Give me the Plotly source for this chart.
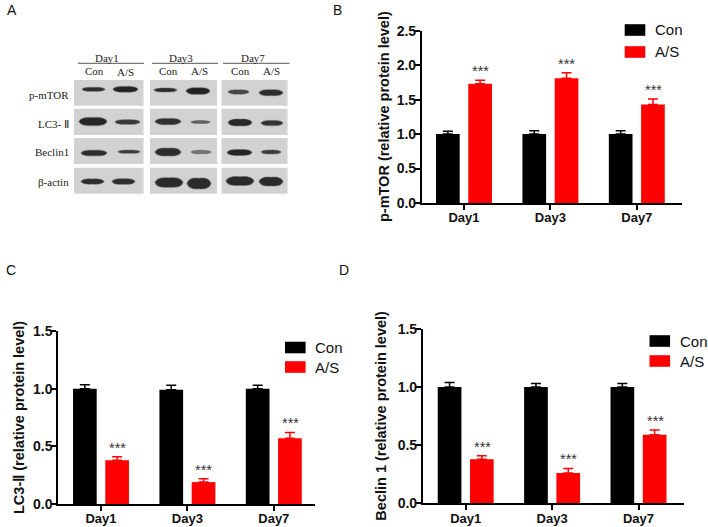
import plotly.graph_objects as go

W, H = 708, 527
SANS = "Liberation Sans, Arial, sans-serif"
SERIF = "Liberation Serif, Times New Roman, serif"

days = ["Day1", "Day3", "Day7"]
series_names = ["Con", "A/S"]
colors = ["#000000", "#ff0000"]

mtor_con = [1.00, 1.00, 1.00]
mtor_as = [1.73, 1.81, 1.43]
mtor_con_err = [0.04, 0.05, 0.05]
mtor_as_err = [0.05, 0.08, 0.08]

lc3_con = [1.00, 0.99, 1.00]
lc3_as = [0.38, 0.19, 0.57]
lc3_con_err = [0.035, 0.04, 0.03]
lc3_as_err = [0.03, 0.03, 0.05]

beclin_con = [1.00, 1.00, 1.00]
beclin_as = [0.38, 0.26, 0.59]
beclin_con_err = [0.04, 0.03, 0.03]
beclin_as_err = [0.03, 0.04, 0.04]

y_ticks_b = [0.0, 0.5, 1.0, 1.5, 2.0, 2.5]
y_ticks_cd = [0.0, 0.5, 1.0, 1.5]

# Western blot panel (illustrative picture, in pixel-like units of its own axis)
blot_proteins = ["p-mTOR", "LC3- Ⅱ", "Beclin1", "β-actin"]
blot_labels_y = [94.5, 123.5, 152, 181.5]
blot_cols = [(74, 143.5), (150, 217), (221.5, 287.5)]
blot_rows = [(80, 105.7), (108.7, 135), (138, 164), (167.7, 193.7)]
# per row, per band: x start, x end, y, thickness, grey level
blot_bands = [
    [(82, 105, 89.3, 3.2, "#1c1c1c"), (113, 138, 89.3, 4.6, "#101010"), (154, 177, 90, 3.2, "#1c1c1c"), (186, 210, 91, 5.4, "#101010"), (228, 249, 92, 3.4, "#3a3a3a"), (259, 283, 92.7, 4.8, "#1c1c1c")],
    [(79, 107, 121.5, 6.6, "#141414"), (115, 140, 122, 3.8, "#2a2a2a"), (155, 181, 121.5, 5, "#202020"), (191, 210, 122, 2.4, "#555555"), (228, 252, 122.5, 5.6, "#181818"), (261, 283, 123, 4.2, "#222222")],
    [(81, 107, 153, 4.6, "#1c1c1c"), (118, 140, 151.7, 2.6, "#2c2c2c"), (155, 181, 152, 6.4, "#1c1c1c"), (191, 211, 152, 2.8, "#6a6a6a"), (227, 252, 152.5, 4.8, "#141414"), (261, 281, 152, 3.2, "#2c2c2c")],
    [(81, 104, 181.5, 4.2, "#1c1c1c"), (112, 135, 181.5, 4.6, "#1c1c1c"), (155, 183, 182.5, 7.8, "#1a1a1a"), (187, 211, 183.5, 8.6, "#1a1a1a"), (226, 254, 181, 7.2, "#1a1a1a"), (259, 283, 181.5, 7.2, "#1a1a1a")],
]
blot_day_labels = [("Day1", 107), ("Day3", 181), ("Day7", 253)]
blot_day_lines = [(78, 144), (152, 218), (223, 289.5)]
blot_lane_labels = [("Con", 94, 71), ("A/S", 125, 71.5), ("Con", 168, 70.5), ("A/S", 199, 71), ("Con", 240, 70.5), ("A/S", 271, 71)]

panel_letters = [("A", 12, 10), ("B", 337.5, 10), ("C", 10.7, 269.5), ("D", 343.5, 269.5)]

# Each chart: data, axis frame and legend location
charts = [
    dict(con=mtor_con, tr=mtor_as, ce=mtor_con_err, te=mtor_as_err, ymax=2.5, ticks=y_ticks_b,
         title="p-mTOR (relative protein level)", x0=421.7, x1=681.7, ytop=30.7, ybot=203, tick0=464.0,
         title_x=384.2, legx=624.7, legy=[30, 52]),
    dict(con=lc3_con, tr=lc3_as, ce=lc3_con_err, te=lc3_as_err, ymax=1.5, ticks=y_ticks_cd,
         title="LC3-Ⅱ (relative protein level)", x0=58, x1=315, ytop=331, ybot=504, tick0=101.0,
         title_x=18.5, legx=285, legy=[347.5, 367]),
    dict(con=beclin_con, tr=beclin_as, ce=beclin_con_err, te=beclin_as_err, ymax=1.5, ticks=y_ticks_cd,
         title="Beclin 1 (relative protein level)", x0=422.7, x1=684, ytop=329, ybot=503.3, tick0=465.7,
         title_x=381.5, legx=649.5, legy=[341, 361]),
]
UNIT = 86.4


def fx(px):
    return px / W


def fy(px):
    return 1 - px / H


fig = go.Figure()
shapes = []
annotations = []
layout_axes = {}

for i, c in enumerate(charts):
    n = "" if i == 0 else str(i + 1)
    xa, ya = f"x{n}", f"y{n}"
    for name, vals, errs, col in ((series_names[0], c["con"], c["ce"], colors[0]),
                                  (series_names[1], c["tr"], c["te"], colors[1])):
        fig.add_trace(go.Bar(
            x=days, y=vals, name=name, xaxis=xa, yaxis=ya, showlegend=False,
            marker=dict(color=col, line=dict(width=0)),
            error_y=dict(type="data", symmetric=False, array=errs, arrayminus=[0] * len(errs),
                         color=col, thickness=1.5, width=5),
        ))
    r0 = (c["x0"] - c["tick0"]) / UNIT
    r1 = (c["x1"] - c["tick0"]) / UNIT
    layout_axes[f"xaxis{n}"] = dict(
        domain=[fx(c["x0"]), fx(c["x1"])], range=[r0, r1], anchor=ya, type="category",
        categoryorder="array", categoryarray=days, automargin=False, ticklabelstandoff=-3,
        showline=True, linecolor="#000", linewidth=1.5, ticks="outside", ticklen=5, tickwidth=1.5,
        tickcolor="#000", showgrid=False, zeroline=False,
        tickfont=dict(family=SANS, size=13, color="#111", weight="bold"),
    )
    layout_axes[f"yaxis{n}"] = dict(
        domain=[fy(c["ybot"]), fy(c["ytop"])], range=[0, c["ymax"]], anchor=xa, automargin=False,
        ticklabelstandoff=-4,
        tickvals=c["ticks"], ticktext=[f"{t:.1f}" for t in c["ticks"]],
        showline=True, linecolor="#000", linewidth=1.5, ticks="outside", ticklen=5, tickwidth=1.5,
        tickcolor="#000", showgrid=False, zeroline=False,
        tickfont=dict(family=SANS, size=14, color="#111", weight="bold"),
    )
    annotations.append(dict(
        x=fx(c["title_x"]), y=fy((c["ytop"] + c["ybot"]) / 2), xref="paper", yref="paper", text=c["title"],
        textangle=-90, showarrow=False, xanchor="center", yanchor="middle",
        font=dict(family=SANS, size=14.5, color="#111", weight="bold"),
    ))
    for d, v, e in zip(days, c["tr"], c["te"]):
        annotations.append(dict(
            x=d, y=v + e, xref=xa, yref=ya, text="***", showarrow=False, xshift=16.5, yshift=-1,
            yanchor="bottom", xanchor="center", font=dict(family=SANS, size=14.5, color="#333"),
        ))
    # legend keys
    for name, col, ly in zip(series_names, colors, c["legy"]):
        shapes.append(dict(type="rect", xref="paper", yref="paper",
                           x0=fx(c["legx"]), x1=fx(c["legx"] + 20.6),
                           y0=fy(ly + 5.8), y1=fy(ly - 5.8),
                           fillcolor=col, line=dict(width=0)))
        annotations.append(dict(x=fx(c["legx"] + 28), y=fy(ly), xref="paper", yref="paper", text=name,
                                showarrow=False, xanchor="left", yanchor="middle",
                                font=dict(family=SANS, size=15, color="#111")))

# Western blot drawn on its own hidden axis
fig.add_trace(go.Scatter(x=[None], y=[None], xaxis="x4", yaxis="y4", showlegend=False))
layout_axes["xaxis4"] = dict(domain=[0, 1], range=[0, W], visible=False, anchor="y4", fixedrange=True)
layout_axes["yaxis4"] = dict(domain=[0, 1], range=[H, 0], visible=False, anchor="x4", fixedrange=True)

for cx0, cx1 in blot_cols:
    for ry0, ry1 in blot_rows:
        shapes.append(dict(type="rect", xref="x4", yref="y4", x0=cx0, x1=cx1, y0=ry0, y1=ry1,
                           fillcolor="#d2d2d2", line=dict(width=0), layer="below"))
for row in blot_bands:
    for bx0, bx1, by, th, col in row:
        shapes.append(dict(type="path", xref="x4", yref="y4",
                           path=f"M {bx0},{by} Q {bx0 + 2},{by - th * 0.75} {(bx0 + bx1) / 2},{by - th * 0.6} "
                                f"Q {bx1 - 2},{by - th * 0.75} {bx1},{by} "
                                f"Q {bx1 - 2},{by + th * 0.75} {(bx0 + bx1) / 2},{by + th * 0.6} "
                                f"Q {bx0 + 2},{by + th * 0.75} {bx0},{by} Z",
                           fillcolor=col, opacity=0.9, line=dict(width=1.2, color="rgba(70,70,70,0.4)")))
for (lx0, lx1) in blot_day_lines:
    shapes.append(dict(type="line", xref="x4", yref="y4", x0=lx0, x1=lx1, y0=63.3, y1=63.3,
                       line=dict(color="#555", width=1)))
for txt, px in blot_day_labels:
    annotations.append(dict(x=px, y=57.5, xref="x4", yref="y4", text=txt, showarrow=False,
                            font=dict(family=SERIF, size=11, color="#222")))
for txt, px, py in blot_lane_labels:
    annotations.append(dict(x=px, y=py, xref="x4", yref="y4", text=txt, showarrow=False,
                            font=dict(family=SERIF, size=11, color="#222")))
for txt, py in zip(blot_proteins, blot_labels_y):
    annotations.append(dict(x=70.5, y=py, xref="x4", yref="y4", text=txt, showarrow=False, xanchor="right",
                            font=dict(family=SERIF, size=11, color="#222")))
for txt, px, py in panel_letters:
    annotations.append(dict(x=fx(px), y=fy(py), xref="paper", yref="paper", text=txt, showarrow=False,
                            xanchor="center", yanchor="middle",
                            font=dict(family=SANS, size=14, color="#111")))

fig.update_layout(
    width=W, height=H, autosize=False, margin=dict(l=0, r=0, t=0, b=0, autoexpand=False),
    paper_bgcolor="white", plot_bgcolor="rgba(0,0,0,0)", barmode="group",
    bargap=0.253, bargroupgap=0.266, shapes=shapes, annotations=annotations, showlegend=False,
    **layout_axes,
)
fig.write_html("out.html", config=dict(displayModeBar=False),
               post_script="document.body.style.margin='0';document.body.style.overflow='hidden';")
